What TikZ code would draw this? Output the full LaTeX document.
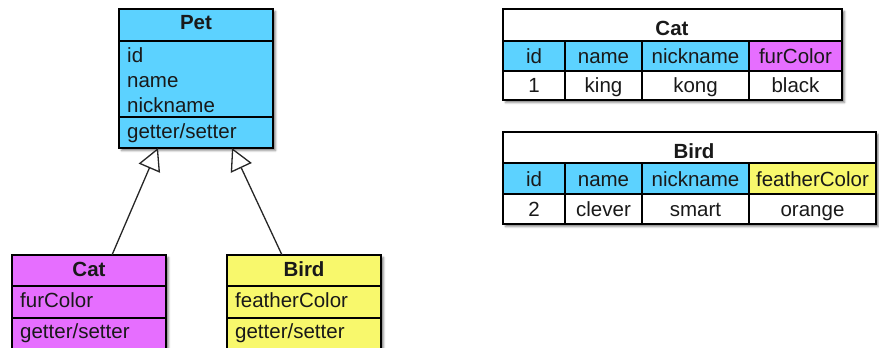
\documentclass[tikz,border=0pt]{standalone}
\usepackage{fontspec}
\setmainfont{Liberation Sans}
\usetikzlibrary{arrows.meta,shadows.blur}

\definecolor{petblue}{RGB}{92,210,255}
\definecolor{catpink}{RGB}{230,110,255}
\definecolor{birdyellow}{RGB}{248,248,108}

\tikzset{
  shadowed/.style={blur shadow={shadow xshift=2.5pt,shadow yshift=-2.5pt,
      shadow blur radius=2pt,shadow opacity=50}},
  classbox/.style={draw=black,line width=1.3pt,shadowed,anchor=north west,
      inner sep=0pt,outer sep=0pt},
  divider/.style={draw=black,line width=1.3pt},
  txt/.style={inner sep=0pt,font=\fontsize{20.5}{24}\selectfont,text=black!90},
  attr/.style={txt,anchor=base west},
  ttl/.style={txt,anchor=base,font=\fontsize{20.5}{24}\selectfont\bfseries},
  cell/.style={txt,anchor=base},
  generalize/.style={draw=black!85,line width=1.3pt,
      -{Triangle[open,length=22pt,width=23pt,fill=white]}},
}

\begin{document}
\begin{tikzpicture}[x=1pt,y=-1pt]
  \useasboundingbox (0,0) rectangle (879,348);
  \clip (0,0) rectangle (879,348);

  % ---- class Pet ----
  \node[classbox,fill=petblue,minimum width=154pt,minimum height=139pt]
    (pet) at (119,9) {};
  \draw[divider] (119,41) -- (273,41);
  \draw[divider] (119,117) -- (273,117);
  \node[ttl]  (pet-t)  at (196,30)  {Pet};
  \node[attr] (pet-a1) at (127,62)  {id};
  \node[attr] (pet-a2) at (127,87)  {name};
  \node[attr] (pet-a3) at (127,112) {nickname};
  \node[attr] (pet-m)  at (127,138) {getter/setter};

  % ---- class Cat ----
  \node[classbox,fill=catpink,minimum width=154pt,minimum height=100pt]
    (cat) at (12,255) {};
  \draw[divider] (12,286) -- (166,286);
  \draw[divider] (12,318) -- (166,318);
  \node[ttl]  (cat-t)  at (89,276) {Cat};
  \node[attr] (cat-a1) at (20,307) {furColor};
  \node[attr] (cat-m)  at (20,338) {getter/setter};

  % ---- class Bird ----
  \node[classbox,fill=birdyellow,minimum width=154pt,minimum height=100pt]
    (bird) at (227,255) {};
  \draw[divider] (227,286) -- (381,286);
  \draw[divider] (227,318) -- (381,318);
  \node[ttl]  (bird-t)  at (304,276) {Bird};
  \node[attr] (bird-a1) at (235,307) {featherColor};
  \node[attr] (bird-m)  at (235,338) {getter/setter};

  % ---- generalization arrows ----
  \draw[generalize] ([xshift=100pt]cat.north west) -- ([xshift=39pt]pet.south west);
  \draw[generalize] ([xshift=55pt]bird.north west) -- ([xshift=113pt]pet.south west);

  % ---- table Cat ----
  \node[classbox,fill=white,minimum width=339pt,minimum height=91pt]
    (cattab) at (503,9) {};
  \fill[petblue] (503,41) rectangle (749,71);
  \fill[catpink] (749,41) rectangle (842,71);
  \draw[divider] (503,41) -- (842,41);
  \draw[divider] (503,71) -- (842,71);
  \foreach \cx in {565,642,749} \draw[divider] (\cx,41) -- (\cx,100);
  \draw[divider] (cattab.north west) rectangle (cattab.south east);
  \node[ttl]  (cattab-t) at (672,35) {Cat};
  \node[cell] (cattab-h1) at (534,63) {id};
  \node[cell] (cattab-h2) at (603.5,63) {name};
  \node[cell] (cattab-h3) at (695.5,63) {nickname};
  \node[cell] (cattab-h4) at (795.5,63) {furColor};
  \node[cell] (cattab-v1) at (534,92) {1};
  \node[cell] (cattab-v2) at (603.5,92) {king};
  \node[cell] (cattab-v3) at (695.5,92) {kong};
  \node[cell] (cattab-v4) at (795.5,92) {black};

  % ---- table Bird ----
  \node[classbox,fill=white,minimum width=373pt,minimum height=92pt]
    (birdtab) at (503,132) {};
  \fill[petblue] (503,163) rectangle (749,194);
  \fill[birdyellow] (749,163) rectangle (876,194);
  \draw[divider] (503,163) -- (876,163);
  \draw[divider] (503,194) -- (876,194);
  \foreach \cx in {565,642,749} \draw[divider] (\cx,163) -- (\cx,224);
  \draw[divider] (birdtab.north west) rectangle (birdtab.south east);
  \node[ttl]  (birdtab-t) at (694,158) {Bird};
  \node[cell] (birdtab-h1) at (534,186) {id};
  \node[cell] (birdtab-h2) at (603.5,186) {name};
  \node[cell] (birdtab-h3) at (695.5,186) {nickname};
  \node[cell] (birdtab-h4) at (812.5,186) {featherColor};
  \node[cell] (birdtab-v1) at (534,216) {2};
  \node[cell] (birdtab-v2) at (603.5,216) {clever};
  \node[cell] (birdtab-v3) at (695.5,216) {smart};
  \node[cell] (birdtab-v4) at (812.5,216) {orange};
\end{tikzpicture}
\end{document}
